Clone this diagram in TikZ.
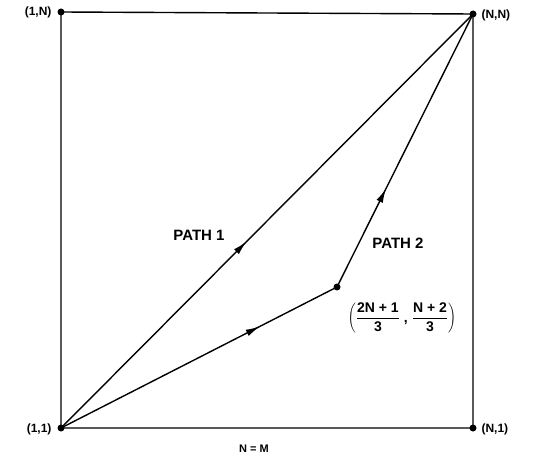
\documentclass[tikz,border=0pt]{standalone}
\usepackage{fontspec}
\setmainfont{Liberation Sans}
\usetikzlibrary{arrows.meta,decorations.markings}
\begin{document}
\begin{tikzpicture}[x=1pt,y=-1pt,
  edge/.style={line width=1.4pt},
  dot/.style={circle,fill=black,inner sep=0pt,minimum size=7pt},
  lbl/.style={font=\bfseries\fontsize{12}{14}\selectfont},
  plbl/.style={font=\bfseries\fontsize{15}{17}\selectfont},
  midarrow/.style={postaction={decorate},decoration={markings,mark=at position #1 with {\arrow{Latex[length=14pt,width=7pt]}}}}]
\useasboundingbox (0,0) rectangle (538,468);
\node[dot] (tl) at (61,12) {};
\node[dot] (tr) at (473,14) {};
\node[dot] (bl) at (61,428) {};
\node[dot] (br) at (473,428) {};
\node[dot] (m) at (337,287) {};
\draw[edge] (tl.center) -- (tr.center) -- (br.center) -- (bl.center) -- cycle;
\draw[edge,midarrow=0.45] (bl.center) -- (tr.center);
\draw[edge,midarrow=0.72] (bl.center) -- (m.center);
\draw[edge,midarrow=0.36] (m.center) -- (tr.center);
\node[lbl,anchor=east] (ltl) at (55,12) {(1,N)};
\node[lbl,anchor=west] (ltr) at (478,15) {(N,N)};
\node[lbl,anchor=east] (lbl1) at (55,429) {(1,1)};
\node[lbl,anchor=west] (lbr) at (478,429) {(N,1)};
\node[plbl] (p1) at (199,235) {PATH 1};
\node[plbl] (p2) at (398,243) {PATH 2};
\node[font=\bfseries\fontsize{14}{16}\selectfont] (frac) at (402,318) {$\displaystyle\left(\frac{\textbf{2N + 1}}{\textbf{3}}\;\textbf{,}\;\frac{\textbf{N + 2}}{\textbf{3}}\right)$};
\node[font=\bfseries\fontsize{11}{13}\selectfont] (nm) at (254,449) {N = M};
\end{tikzpicture}
\end{document}
